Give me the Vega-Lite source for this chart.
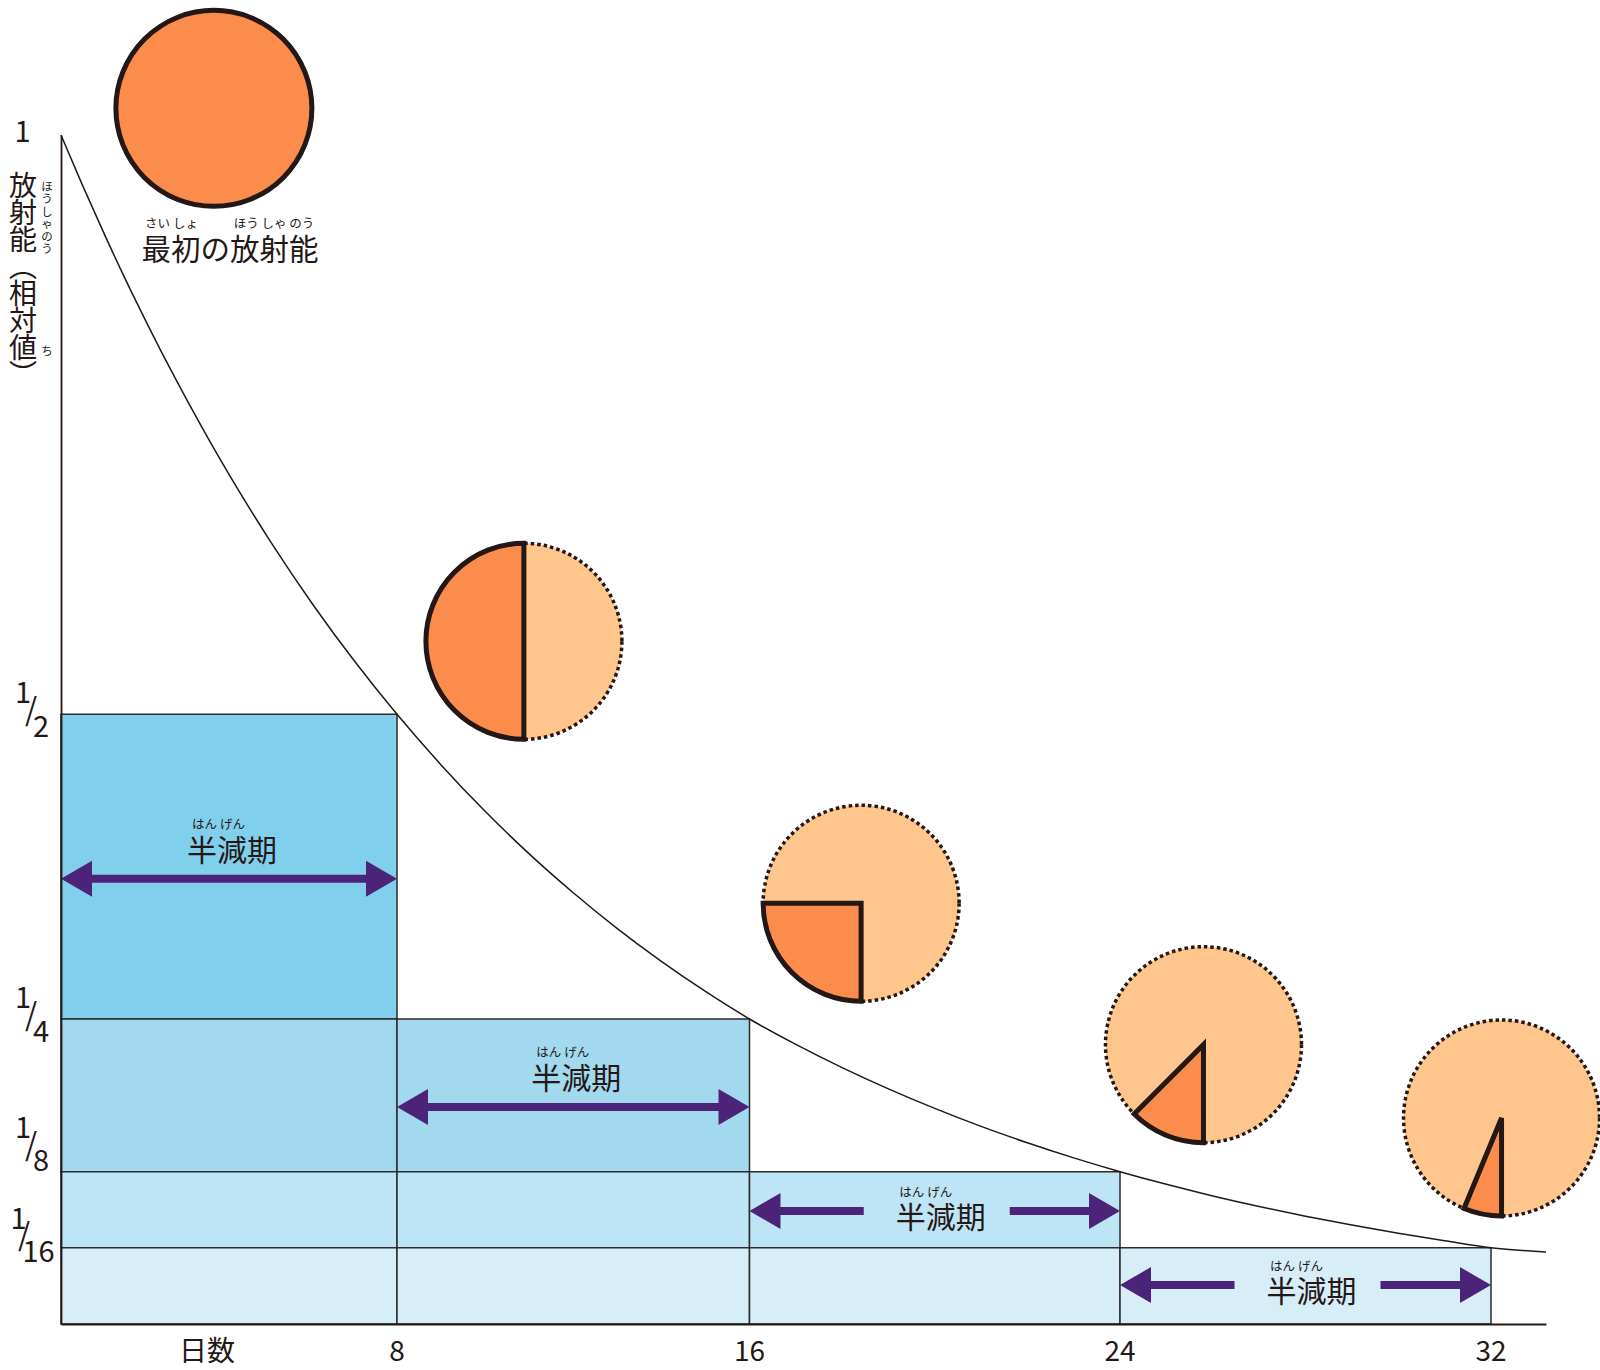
{
  "$schema": "https://vega.github.io/schema/vega-lite/v6.json",
  "width": 1485,
  "height": 1189,
  "autosize": "none",
  "padding": {"left": 61, "top": 135, "right": 54, "bottom": 46},
  "background": "white",
  "config": {"view": {"stroke": null}, "text": {"font": "Noto Sans CJK JP", "color": "#231815"}},
  "datasets": {
    "cells": [
      {"t0": 0, "t1": 8, "v0": 0.25, "v1": 0.5, "band": "half"},
      {"t0": 0, "t1": 8, "v0": 0.125, "v1": 0.25, "band": "quarter"},
      {"t0": 8, "t1": 16, "v0": 0.125, "v1": 0.25, "band": "quarter"},
      {"t0": 0, "t1": 8, "v0": 0.0625, "v1": 0.125, "band": "eighth"},
      {"t0": 8, "t1": 16, "v0": 0.0625, "v1": 0.125, "band": "eighth"},
      {"t0": 16, "t1": 24, "v0": 0.0625, "v1": 0.125, "band": "eighth"},
      {"t0": 0, "t1": 8, "v0": 0, "v1": 0.0625, "band": "sixteenth"},
      {"t0": 8, "t1": 16, "v0": 0, "v1": 0.0625, "band": "sixteenth"},
      {"t0": 16, "t1": 24, "v0": 0, "v1": 0.0625, "band": "sixteenth"},
      {"t0": 24, "t1": 32, "v0": 0, "v1": 0.0625, "band": "sixteenth"}
    ],
    "curve": [
      {"t": 0, "v": 1}, {"t": 0.5, "v": 0.9576}, {"t": 1, "v": 0.917}, {"t": 1.5, "v": 0.878},
      {"t": 2, "v": 0.8409}, {"t": 2.5, "v": 0.8052}, {"t": 3, "v": 0.7711}, {"t": 3.5, "v": 0.7384},
      {"t": 4, "v": 0.7071}, {"t": 5, "v": 0.6484}, {"t": 6, "v": 0.5946}, {"t": 7, "v": 0.5453},
      {"t": 8, "v": 0.5}, {"t": 9, "v": 0.4585}, {"t": 10, "v": 0.4204}, {"t": 11, "v": 0.3855},
      {"t": 12, "v": 0.3536}, {"t": 13, "v": 0.3242}, {"t": 14, "v": 0.2973}, {"t": 15, "v": 0.2726},
      {"t": 16, "v": 0.25}, {"t": 17, "v": 0.2292}, {"t": 18, "v": 0.2102}, {"t": 19, "v": 0.1928},
      {"t": 20, "v": 0.1768}, {"t": 21, "v": 0.1621}, {"t": 22, "v": 0.1487}, {"t": 23, "v": 0.1363},
      {"t": 24, "v": 0.125}, {"t": 25, "v": 0.1146}, {"t": 26, "v": 0.1051}, {"t": 27, "v": 0.0964},
      {"t": 28, "v": 0.0884}, {"t": 29, "v": 0.0811}, {"t": 30, "v": 0.0743}, {"t": 31, "v": 0.0682},
      {"t": 32, "v": 0.0625}, {"t": 33.2, "v": 0.059}
    ],
    "pies": [
      {"t": 3.64, "v": 1.023, "start": 0, "frac": 1},
      {"t": 10.88, "v": 0.563, "start": 0, "frac": 0.5},
      {"t": 18.41, "v": 0.345, "start": 0, "frac": 0.25},
      {"t": 25.8, "v": 0.229, "start": 0, "frac": 0.125},
      {"t": 32.23, "v": 0.169, "start": 0, "frac": 0.0625}
    ],
    "arrows": [
      {"t0": 0, "t1": 8, "mid": 4, "level": 0.365, "style": "through"},
      {"t0": 8, "t1": 16, "mid": 12, "level": 0.178, "style": "through"},
      {"t0": 16, "t1": 24, "mid": 20, "level": 0.0927, "style": "split"},
      {"t0": 24, "t1": 32, "mid": 28, "level": 0.0319, "style": "split"}
    ],
    "xticks": [
      {"t": 8, "label": "8"}, {"t": 16, "label": "16"}, {"t": 24, "label": "24"}, {"t": 32, "label": "32"}
    ],
    "yticks": [
      {"v": 0.5, "num": "1", "den": "2"},
      {"v": 0.25, "num": "1", "den": "4"},
      {"v": 0.125, "num": "1", "den": "8"},
      {"v": 0.0625, "num": "1", "den": "16"}
    ]
  },
  "layer": [
    {
      "data": {"name": "cells"},
      "mark": {"type": "rect", "stroke": "#2b2b2b", "strokeWidth": 1.5},
      "encoding": {
        "x": {"field": "t0", "type": "quantitative",
          "scale": {"domain": [0, 8, 16, 24, 32, 33.2], "range": [0, 336, 688.5, 1059, 1430, 1485], "nice": false, "zero": false},
          "axis": {"domain": true, "domainColor": "#231815", "domainWidth": 2, "ticks": false, "labels": false, "grid": false, "title": null, "zindex": 1}},
        "x2": {"field": "t1"},
        "y": {"field": "v0", "type": "quantitative",
          "scale": {"domain": [0, 0.0625, 0.125, 0.25, 0.5, 1], "range": [1189, 1112.7, 1036.7, 884, 579.3, 0], "nice": false, "zero": false},
          "axis": {"domain": true, "domainColor": "#231815", "domainWidth": 1.8, "ticks": false, "labels": false, "grid": false, "title": null, "zindex": 1}},
        "y2": {"field": "v1"},
        "fill": {"field": "band", "type": "nominal",
          "scale": {"domain": ["half", "quarter", "eighth", "sixteenth"], "range": ["#80CFEC", "#A2D9EF", "#BEE5F6", "#D7EDF8"]},
          "legend": null}
      }
    },
    {
      "data": {"name": "curve"},
      "mark": {"type": "line", "stroke": "#231815", "strokeWidth": 1.5, "interpolate": "monotone"},
      "encoding": {
        "x": {"field": "t", "type": "quantitative"},
        "y": {"field": "v", "type": "quantitative"}
      }
    },
    {
      "data": {"name": "pies"},
      "mark": {"type": "point", "shape": "circle", "size": 38416, "filled": true, "fill": "#FEC68C", "opacity": 1, "stroke": "#231815", "strokeWidth": 3.5, "strokeDash": [3.5, 3]},
      "encoding": {
        "x": {"field": "t", "type": "quantitative"},
        "y": {"field": "v", "type": "quantitative"}
      }
    },
    {
      "data": {"name": "pies"},
      "mark": {"type": "arc", "radius": 98, "fill": "#FB8C4B", "stroke": "#231815", "strokeWidth": 5, "strokeJoin": "miter"},
      "encoding": {
        "x": {"field": "t", "type": "quantitative"},
        "y": {"field": "v", "type": "quantitative"},
        "theta": {"field": "start", "type": "quantitative", "stack": null, "scale": {"domain": [0, 1], "range": [3.14159265, 9.42477796]}},
        "theta2": {"field": "frac"}
      }
    },
    {
      "data": {"name": "arrows"},
      "transform": [{"filter": "datum.style === 'through'"}],
      "mark": {"type": "rule", "stroke": "#4B2479", "strokeWidth": 8, "strokeCap": "butt", "xOffset": 30, "x2Offset": -30},
      "encoding": {
        "x": {"field": "t0", "type": "quantitative"},
        "x2": {"field": "t1"},
        "y": {"field": "level", "type": "quantitative"}
      }
    },
    {
      "data": {"name": "arrows"},
      "transform": [{"filter": "datum.style === 'split'"}],
      "mark": {"type": "rule", "stroke": "#4B2479", "strokeWidth": 8, "strokeCap": "butt", "xOffset": 30, "x2Offset": -71},
      "encoding": {
        "x": {"field": "t0", "type": "quantitative"},
        "x2": {"field": "mid"},
        "y": {"field": "level", "type": "quantitative"}
      }
    },
    {
      "data": {"name": "arrows"},
      "transform": [{"filter": "datum.style === 'split'"}],
      "mark": {"type": "rule", "stroke": "#4B2479", "strokeWidth": 8, "strokeCap": "butt", "xOffset": 75, "x2Offset": -30},
      "encoding": {
        "x": {"field": "mid", "type": "quantitative"},
        "x2": {"field": "t1"},
        "y": {"field": "level", "type": "quantitative"}
      }
    },
    {
      "data": {"name": "arrows"},
      "mark": {"type": "point", "shape": "M-1,0L1,-1.16L1,1.16Z", "size": 961, "filled": true, "fill": "#4B2479", "opacity": 1, "strokeWidth": 0, "xOffset": 15.5},
      "encoding": {
        "x": {"field": "t0", "type": "quantitative"},
        "y": {"field": "level", "type": "quantitative"}
      }
    },
    {
      "data": {"name": "arrows"},
      "mark": {"type": "point", "shape": "M1,0L-1,-1.16L-1,1.16Z", "size": 961, "filled": true, "fill": "#4B2479", "opacity": 1, "strokeWidth": 0, "xOffset": -15.5},
      "encoding": {
        "x": {"field": "t1", "type": "quantitative"},
        "y": {"field": "level", "type": "quantitative"}
      }
    },
    {
      "data": {"name": "arrows"},
      "transform": [{"filter": "datum.style === 'through'"}],
      "mark": {"type": "text", "text": "半減期", "fontSize": 30, "baseline": "middle", "align": "center", "dx": 3, "dy": -27},
      "encoding": {
        "x": {"field": "mid", "type": "quantitative"},
        "y": {"field": "level", "type": "quantitative"}
      }
    },
    {
      "data": {"name": "arrows"},
      "transform": [{"filter": "datum.style === 'through'"}],
      "mark": {"type": "text", "text": "はん げん", "fontSize": 12.5, "baseline": "middle", "align": "center", "dx": -10.5, "dy": -54},
      "encoding": {
        "x": {"field": "mid", "type": "quantitative"},
        "y": {"field": "level", "type": "quantitative"}
      }
    },
    {
      "data": {"name": "arrows"},
      "transform": [{"filter": "datum.style === 'split'"}],
      "mark": {"type": "text", "text": "半減期", "fontSize": 30, "baseline": "middle", "align": "center", "dx": 6, "dy": 8},
      "encoding": {
        "x": {"field": "mid", "type": "quantitative"},
        "y": {"field": "level", "type": "quantitative"}
      }
    },
    {
      "data": {"name": "arrows"},
      "transform": [{"filter": "datum.style === 'split'"}],
      "mark": {"type": "text", "text": "はん げん", "fontSize": 12.5, "baseline": "middle", "align": "center", "dx": -9, "dy": -18},
      "encoding": {
        "x": {"field": "mid", "type": "quantitative"},
        "y": {"field": "level", "type": "quantitative"}
      }
    },
    {
      "data": {"name": "xticks"},
      "mark": {"type": "text", "fontSize": 28, "baseline": "middle", "align": "center", "dy": 29},
      "encoding": {
        "x": {"field": "t", "type": "quantitative"},
        "y": {"datum": 0, "type": "quantitative"},
        "text": {"field": "label", "type": "nominal"}
      }
    },
    {
      "data": {"name": "yticks"},
      "transform": [{"filter": "datum.v >= 0.25"}],
      "mark": {"type": "text", "fontSize": 29, "baseline": "middle", "align": "center", "dx": -38, "dy": -20},
      "encoding": {
        "x": {"datum": 0, "type": "quantitative"},
        "y": {"field": "v", "type": "quantitative"},
        "text": {"field": "num", "type": "nominal"}
      }
    },
    {
      "data": {"name": "yticks"},
      "transform": [{"filter": "datum.v >= 0.25"}],
      "mark": {"type": "text", "text": "/", "fontSize": 31, "baseline": "middle", "align": "center", "dx": -30, "dy": -2},
      "encoding": {
        "x": {"datum": 0, "type": "quantitative"},
        "y": {"field": "v", "type": "quantitative"}
      }
    },
    {
      "data": {"name": "yticks"},
      "transform": [{"filter": "datum.v >= 0.25"}],
      "mark": {"type": "text", "fontSize": 29, "baseline": "middle", "align": "center", "dx": -20, "dy": 14},
      "encoding": {
        "x": {"datum": 0, "type": "quantitative"},
        "y": {"field": "v", "type": "quantitative"},
        "text": {"field": "den", "type": "nominal"}
      }
    },
    {
      "data": {"name": "yticks"},
      "transform": [{"filter": "datum.v == 0.125"}],
      "mark": {"type": "text", "fontSize": 29, "baseline": "middle", "align": "center", "dx": -38, "dy": -43},
      "encoding": {
        "x": {"datum": 0, "type": "quantitative"},
        "y": {"field": "v", "type": "quantitative"},
        "text": {"field": "num", "type": "nominal"}
      }
    },
    {
      "data": {"name": "yticks"},
      "transform": [{"filter": "datum.v == 0.125"}],
      "mark": {"type": "text", "text": "/", "fontSize": 31, "baseline": "middle", "align": "center", "dx": -30, "dy": -25},
      "encoding": {
        "x": {"datum": 0, "type": "quantitative"},
        "y": {"field": "v", "type": "quantitative"}
      }
    },
    {
      "data": {"name": "yticks"},
      "transform": [{"filter": "datum.v == 0.125"}],
      "mark": {"type": "text", "fontSize": 29, "baseline": "middle", "align": "center", "dx": -20, "dy": -10},
      "encoding": {
        "x": {"datum": 0, "type": "quantitative"},
        "y": {"field": "v", "type": "quantitative"},
        "text": {"field": "den", "type": "nominal"}
      }
    },
    {
      "data": {"name": "yticks"},
      "transform": [{"filter": "datum.v == 0.0625"}],
      "mark": {"type": "text", "fontSize": 29, "baseline": "middle", "align": "center", "dx": -42.5, "dy": -28},
      "encoding": {
        "x": {"datum": 0, "type": "quantitative"},
        "y": {"field": "v", "type": "quantitative"},
        "text": {"field": "num", "type": "nominal"}
      }
    },
    {
      "data": {"name": "yticks"},
      "transform": [{"filter": "datum.v == 0.0625"}],
      "mark": {"type": "text", "text": "/", "fontSize": 31, "baseline": "middle", "align": "center", "dx": -37, "dy": -11},
      "encoding": {
        "x": {"datum": 0, "type": "quantitative"},
        "y": {"field": "v", "type": "quantitative"}
      }
    },
    {
      "data": {"name": "yticks"},
      "transform": [{"filter": "datum.v == 0.0625"}],
      "mark": {"type": "text", "fontSize": 29, "baseline": "middle", "align": "center", "dx": -22.5, "dy": 5},
      "encoding": {
        "x": {"datum": 0, "type": "quantitative"},
        "y": {"field": "v", "type": "quantitative"},
        "text": {"field": "den", "type": "nominal"}
      }
    },
    {
      "data": {"values": [{}]},
      "mark": {"type": "text", "text": "1", "fontSize": 29, "baseline": "middle", "align": "center", "dx": -38.5, "dy": -2},
      "encoding": {
        "x": {"datum": 0, "type": "quantitative"},
        "y": {"datum": 1, "type": "quantitative"}
      }
    },
    {
      "data": {"values": [{}]},
      "mark": {"type": "text", "text": "日数", "fontSize": 28, "baseline": "middle", "align": "center", "dx": 146, "dy": 29},
      "encoding": {
        "x": {"datum": 0, "type": "quantitative"},
        "y": {"datum": 0, "type": "quantitative"}
      }
    },
    {
      "data": {"values": [{}]},
      "mark": {"type": "text", "text": ["放", "射", "能", "︵", "相", "対", "値", "︶"], "fontSize": 28, "lineHeight": 27, "baseline": "middle", "align": "center", "dx": -38, "dy": 53},
      "encoding": {
        "x": {"datum": 0, "type": "quantitative"},
        "y": {"datum": 1, "type": "quantitative"}
      }
    },
    {
      "data": {"values": [{}]},
      "mark": {"type": "text", "text": ["ほ", "う", "し", "ゃ", "の", "う"], "fontSize": 11.5, "lineHeight": 12.4, "baseline": "middle", "align": "center", "dx": -14, "dy": 53},
      "encoding": {
        "x": {"datum": 0, "type": "quantitative"},
        "y": {"datum": 1, "type": "quantitative"}
      }
    },
    {
      "data": {"values": [{}]},
      "mark": {"type": "text", "text": "ち", "fontSize": 11.5, "baseline": "middle", "align": "center", "dx": -14, "dy": 217},
      "encoding": {
        "x": {"datum": 0, "type": "quantitative"},
        "y": {"datum": 1, "type": "quantitative"}
      }
    },
    {
      "data": {"values": [{}]},
      "mark": {"type": "text", "text": "最初の放射能", "fontSize": 29.5, "baseline": "middle", "align": "center", "dx": 169, "dy": 116},
      "encoding": {
        "x": {"datum": 0, "type": "quantitative"},
        "y": {"datum": 1, "type": "quantitative"}
      }
    },
    {
      "data": {"values": [{}]},
      "mark": {"type": "text", "text": "さい しょ", "fontSize": 12.5, "baseline": "middle", "align": "center", "dx": 110.5, "dy": 89},
      "encoding": {
        "x": {"datum": 0, "type": "quantitative"},
        "y": {"datum": 1, "type": "quantitative"}
      }
    },
    {
      "data": {"values": [{}]},
      "mark": {"type": "text", "text": "ほう しゃ のう", "fontSize": 12.5, "baseline": "middle", "align": "center", "dx": 213, "dy": 89},
      "encoding": {
        "x": {"datum": 0, "type": "quantitative"},
        "y": {"datum": 1, "type": "quantitative"}
      }
    }
  ]
}
